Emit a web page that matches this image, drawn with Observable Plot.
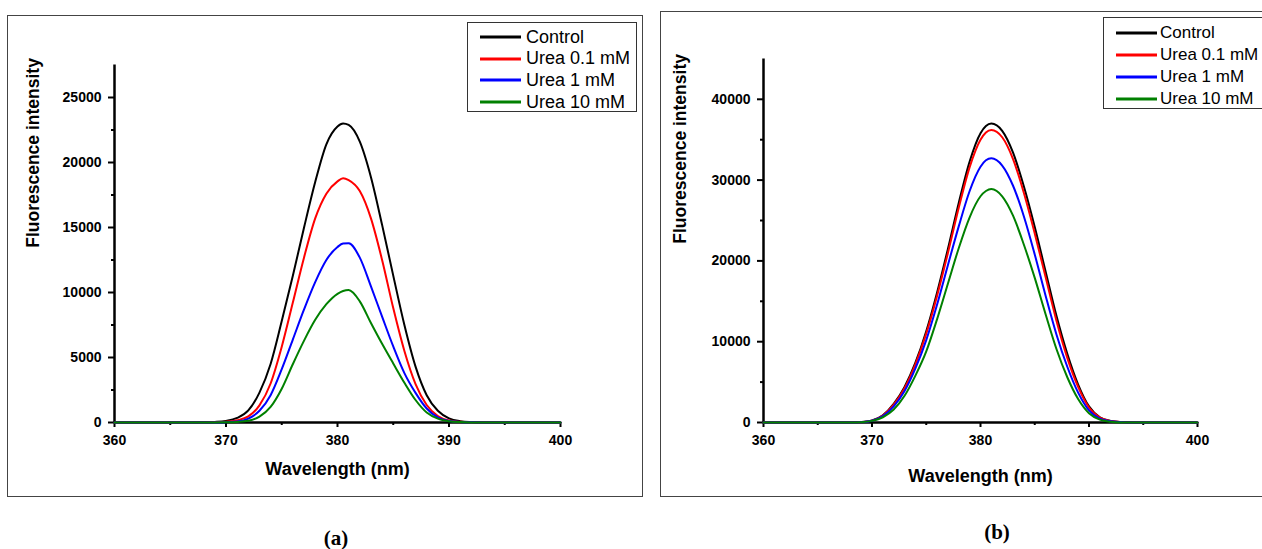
<!DOCTYPE html>
<html>
<head>
<meta charset="utf-8">
<script src="https://cdn.jsdelivr.net/npm/d3@7"></script>
<script src="https://cdn.jsdelivr.net/npm/@observablehq/plot@0.6"></script>
<style>
  html, body { margin: 0; padding: 0; background: #fff; }
  body { width: 1262px; height: 549px; position: relative; overflow: hidden; font-family: "Liberation Sans", Arial, sans-serif; }
  .abs { position: absolute; }
  .frame { position: absolute; border: 1px solid #444; box-sizing: border-box; pointer-events: none; }
  .legend { position: absolute; border: 1px solid #333; box-sizing: border-box; background: #fff; }
  .legend .row { position: absolute; left: 0; height: 22px; display: flex; align-items: center; }
  .legend .row span { color: #000; white-space: nowrap; }
  .caption { position: absolute; font-family: "Liberation Serif", "Times New Roman", serif; font-weight: bold; font-size: 21px; transform: translate(-50%, -50%); }
</style>
</head>
<body>
<script>
// ---- data ----
const seriesNames = ["Control", "Urea 0.1 mM", "Urea 1 mM", "Urea 10 mM"];
const seriesColors = ["#000000", "#ff0000", "#0000ff", "#008000"];

const wavelength = [360,361,362,363,364,365,366,367,368,369,370,371,372,373,374,375,376,377,378,379,
                    380,380.5,381,
                    382,383,384,385,386,387,388,389,390,391,392,393,394,395,396,397,398,399,400];

// Panel (a)
const controlA = [0,0,0,0,0,0,0,0,10,40,120,350,930,2300,4500,7800,11300,15000,18500,21400,
                  22770,23000,22890,
                  21600,18870,15200,11300,7500,4300,2100,900,320,100,30,5,0,0,0,0,0,0,0];
const urea01A  = [0,0,0,0,0,0,0,0,5,20,60,170,470,1320,3000,5830,9250,12700,15700,17600,
                  18550,18790,18650,
                  17800,15700,12500,8800,5500,2950,1350,500,150,50,10,0,0,0,0,0,0,0,0];
const urea1A   = [0,0,0,0,0,0,0,0,0,5,25,80,300,900,2100,4100,6400,8700,10800,12500,
                  13500,13760,13780,
                  12680,10470,8140,5850,3800,2280,1080,390,120,40,10,0,0,0,0,0,0,0,0];
const urea10A  = [0,0,0,0,0,0,0,0,0,0,10,40,130,450,1200,2600,4500,6300,7900,9100,
                  9900,10120,10190,
                  9320,7650,6050,4540,3060,1730,770,300,100,30,5,0,0,0,0,0,0,0,0];

// Panel (b)
const controlB = [0,0,0,0,0,0,0,0,0,50,250,900,2300,4400,7400,11300,16100,21500,27200,32300,
                  35800,36700,37000,
                  36100,33400,29200,24200,18700,13200,8500,4700,2000,650,200,50,0,0,0,0,0,0,0];
const urea01B  = [0,0,0,0,0,0,0,0,0,45,230,850,2200,4250,7200,11000,15700,21000,26600,31600,
                  35000,35900,36200,
                  35300,32600,28400,23400,18000,12600,8000,4400,1850,600,180,40,0,0,0,0,0,0,0];
const urea1B   = [0,0,0,0,0,0,0,0,0,40,220,780,2000,3900,6700,10200,14600,19500,24300,28650,
                  31650,32450,32700,
                  31800,29300,25500,20800,15700,10900,6900,3700,1500,480,150,30,0,0,0,0,0,0,0];
const urea10B  = [0,0,0,0,0,0,0,0,0,35,200,650,1600,3300,5800,8800,12800,17200,21600,25400,
                  28000,28650,28900,
                  28000,25600,22000,17900,13400,9100,5600,2900,1150,350,90,15,0,0,0,0,0,0,0];

const xTicks = [360, 370, 380, 390, 400];
const xMinorTicks = [365, 375, 385, 395];
const yTicksA = [0, 5000, 10000, 15000, 20000, 25000];
const yMinorTicksA = [2500, 7500, 12500, 17500, 22500];
const yTicksB = [0, 10000, 20000, 30000, 40000];
const yMinorTicksB = [5000, 15000, 25000, 35000];

const xLabel = "Wavelength (nm)";
const yLabel = "Fluorescence intensity";

// ---- build ----
function toRows(seriesArrays) {
  const rows = [];
  seriesArrays.forEach((arr, si) => {
    arr.forEach((v, i) => rows.push({series: seriesNames[si], wl: wavelength[i], v}));
  });
  return rows;
}

function panel(cfg) {
  const rows = toRows(cfg.series);
  const chart = Plot.plot({
    width: cfg.width, height: cfg.height,
    marginLeft: cfg.ml, marginRight: cfg.mr, marginTop: cfg.mt, marginBottom: cfg.mb,
    style: {fontFamily: "Liberation Sans, Arial, sans-serif", background: "transparent", color: "#000", overflow: "visible"},
    x: {domain: [360, 400], axis: null, label: null},
    y: {domain: [0, cfg.ymax], axis: null, label: null},
    color: {domain: seriesNames, range: seriesColors},
    marks: [
      Plot.axisX({ticks: xMinorTicks, tickSize: 3, strokeWidth: 2, tickFormat: () => "", label: null}),
      Plot.axisY({ticks: cfg.yMinor, tickSize: 3, strokeWidth: 2, tickFormat: () => "", label: null}),
      Plot.axisX({ticks: xTicks, tickSize: 5, tickPadding: 8, strokeWidth: 2, fontSize: 14, fontWeight: "bold", tickFormat: d => String(d), label: null}),
      Plot.axisY({ticks: cfg.yTicks, tickSize: 6, tickPadding: 7, strokeWidth: 2, fontSize: 14, fontWeight: "bold", tickFormat: d => String(d), label: null}),
      Plot.ruleX([360], {y1: 0, y2: cfg.ymax, strokeWidth: 2.5}),
      Plot.ruleY([0], {strokeWidth: 2.5}),
      Plot.line(rows, {x: "wl", y: "v", z: "series", stroke: "series", strokeWidth: 2, curve: "monotone-x"}),
      Plot.text([xLabel], {frameAnchor: "bottom", dy: cfg.xLabelDy, fontSize: 18, fontWeight: "bold"}),
      Plot.text([yLabel], {frameAnchor: "left", rotate: -90, dx: cfg.yLabelDx, dy: cfg.yLabelDy, fontSize: 17.5, fontWeight: "bold"})
    ]
  });
  chart.classList.add("abs");
  chart.style.left = cfg.left + "px";
  chart.style.top = cfg.top + "px";
  document.body.appendChild(chart);

  const frame = document.createElement("div");
  frame.className = "frame";
  Object.assign(frame.style, {left: cfg.frame[0] + "px", top: cfg.frame[1] + "px", width: cfg.frame[2] + "px", height: cfg.frame[3] + "px"});
  document.body.appendChild(frame);

  const lg = document.createElement("div");
  lg.className = "legend";
  Object.assign(lg.style, {left: cfg.legend.left + "px", top: cfg.legend.top + "px", width: cfg.legend.width + "px", height: cfg.legend.height + "px"});
  seriesNames.forEach((name, i) => {
    const row = document.createElement("div");
    row.className = "row";
    row.style.top = (cfg.legend.rowTop + i * cfg.legend.rowStep - 11) + "px";
    row.style.left = cfg.legend.lineX + "px";
    const sw = document.createElementNS("http://www.w3.org/2000/svg", "svg");
    sw.setAttribute("width", cfg.legend.lineW);
    sw.setAttribute("height", 6);
    const ln = document.createElementNS("http://www.w3.org/2000/svg", "line");
    ln.setAttribute("x1", 0); ln.setAttribute("x2", cfg.legend.lineW);
    ln.setAttribute("y1", 3); ln.setAttribute("y2", 3);
    ln.setAttribute("stroke", seriesColors[i]); ln.setAttribute("stroke-width", 3);
    sw.appendChild(ln);
    const tx = document.createElement("span");
    tx.textContent = name;
    tx.style.marginLeft = cfg.legend.gap + "px";
    tx.style.fontSize = cfg.legend.fontSize + "px";
    row.appendChild(sw); row.appendChild(tx);
    lg.appendChild(row);
  });
  document.body.appendChild(lg);

  const cap = document.createElement("div");
  cap.className = "caption";
  cap.textContent = cfg.caption;
  cap.style.left = cfg.capX + "px";
  cap.style.top = cfg.capY + "px";
  document.body.appendChild(cap);
}

panel({
  series: [controlA, urea01A, urea1A, urea10A],
  left: 7, top: 15, width: 635, height: 482,
  ml: 107, mr: 82, mt: 49.5, mb: 75,
  ymax: 27500, yTicks: yTicksA, yMinor: yMinorTicksA,
  xLabelDy: 52, yLabelDx: -81, yLabelDy: 4,
  frame: [7, 15, 636, 482],
  legend: {left: 467, top: 22, width: 170, height: 90, rowTop: 14, rowStep: 21.7, lineX: 12, lineW: 41, gap: 5, fontSize: 18},
  caption: "(a)", capX: 336, capY: 538
});

panel({
  series: [controlB, urea01B, urea1B, urea10B],
  left: 660, top: 11, width: 602, height: 486,
  ml: 103, mr: 65, mt: 47.4, mb: 75,
  ymax: 45000, yTicks: yTicksB, yMinor: yMinorTicksB,
  xLabelDy: 59, yLabelDx: -83, yLabelDy: 3,
  frame: [660, 11, 606, 486],
  legend: {left: 1103, top: 17, width: 170, height: 92, rowTop: 14.5, rowStep: 22, lineX: 12, lineW: 41, gap: 3, fontSize: 17},
  caption: "(b)", capX: 997, capY: 532
});
</script>
</body>
</html>
